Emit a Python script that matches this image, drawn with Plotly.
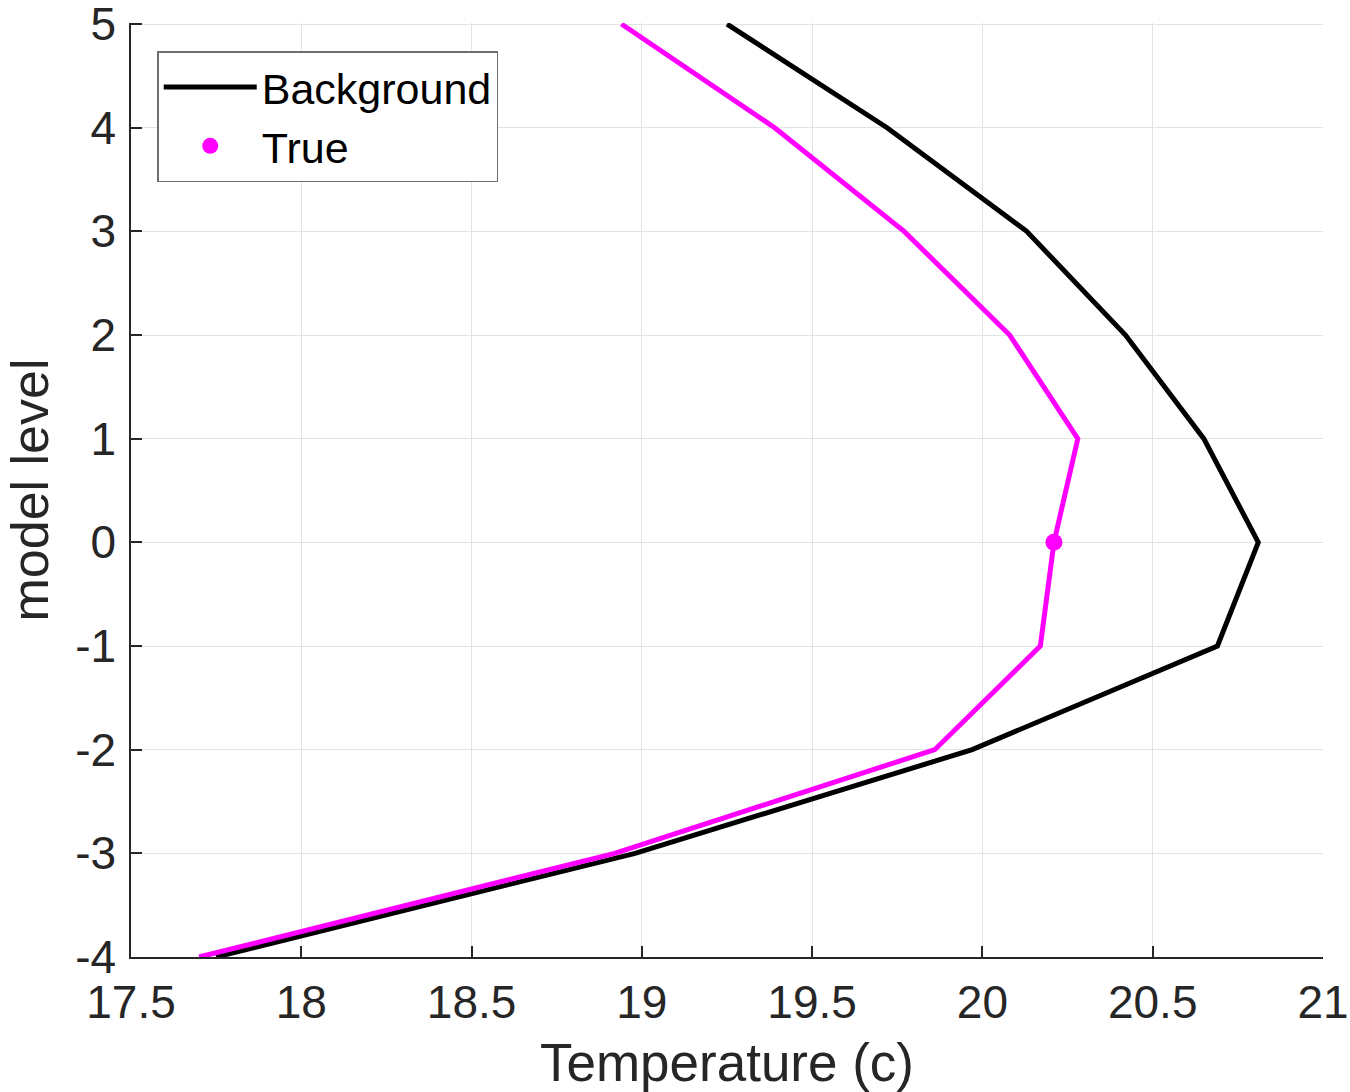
import plotly.graph_objects as go

# Data
levels = [5, 4, 3, 2, 1, 0, -1, -2, -3, -4]
background_temp = [19.25, 19.72, 20.13, 20.42, 20.65, 20.81, 20.69, 19.97, 18.98, 17.75]
true_temp = [18.94, 19.39, 19.77, 20.08, 20.28, 20.21, 20.17, 19.86, 18.92, 17.70]
obs_level = [0]
obs_temp = [20.21]

x_ticks = [17.5, 18, 18.5, 19, 19.5, 20, 20.5, 21]
x_ticklabels = ["17.5", "18", "18.5", "19", "19.5", "20", "20.5", "21"]
y_ticks = [-4, -3, -2, -1, 0, 1, 2, 3, 4, 5]
y_ticklabels = ["-4", "-3", "-2", "-1", "0", "1", "2", "3", "4", "5"]

FONT = "Liberation Sans, Arial, sans-serif"
AXC = "#262626"

fig = go.Figure()
fig.add_trace(go.Scatter(x=background_temp, y=levels, mode="lines", name="Background",
                         line=dict(color="black", width=5)))
fig.add_trace(go.Scatter(x=true_temp, y=levels, mode="lines", name="True profile",
                         line=dict(color="#ff00ff", width=5), showlegend=False))
fig.add_trace(go.Scatter(x=obs_temp, y=obs_level, mode="markers", name="True",
                         marker=dict(color="#ff00ff", size=17)))

fig.update_layout(
    width=1350, height=1092, autosize=False,
    margin=dict(l=131, r=27, t=23, b=135, autoexpand=False),
    paper_bgcolor="white", plot_bgcolor="white",
    font=dict(family=FONT, color=AXC, size=46),
    showlegend=True,
    legend=dict(x=0.022, y=0.97, xanchor="left", yanchor="top",
                bgcolor="white", bordercolor="#6e6e6e", borderwidth=1.5,
                font=dict(family=FONT, size=43, color="black"),
                itemwidth=93, tracegroupgap=0),
    xaxis=dict(range=[17.5, 21], tickvals=x_ticks, ticktext=x_ticklabels,
               showgrid=True, gridcolor="#e3e3e3", gridwidth=1,
               showline=True, linecolor=AXC, linewidth=1.5,
               ticks="inside", ticklen=11, tickcolor=AXC, tickwidth=1.5,
               zeroline=False, mirror=False, automargin=False,
               ticklabeloverflow="allow",
               tickfont=dict(size=46, color=AXC), ticklabelstandoff=4,
               title=dict(text="Temperature (c)", font=dict(size=53, color=AXC), standoff=20)),
    yaxis=dict(range=[-4, 5.01], tickvals=y_ticks, ticktext=y_ticklabels,
               showgrid=True, gridcolor="#e3e3e3", gridwidth=1,
               showline=True, linecolor=AXC, linewidth=1.5,
               ticks="inside", ticklen=11, tickcolor=AXC, tickwidth=1.5,
               zeroline=False, mirror=False, automargin=False,
               ticklabeloverflow="allow",
               tickfont=dict(size=46, color=AXC), ticklabelstandoff=4,
               title=dict(text="model level", font=dict(size=52, color=AXC), standoff=10)),
)

fig.write_html("out.html")
